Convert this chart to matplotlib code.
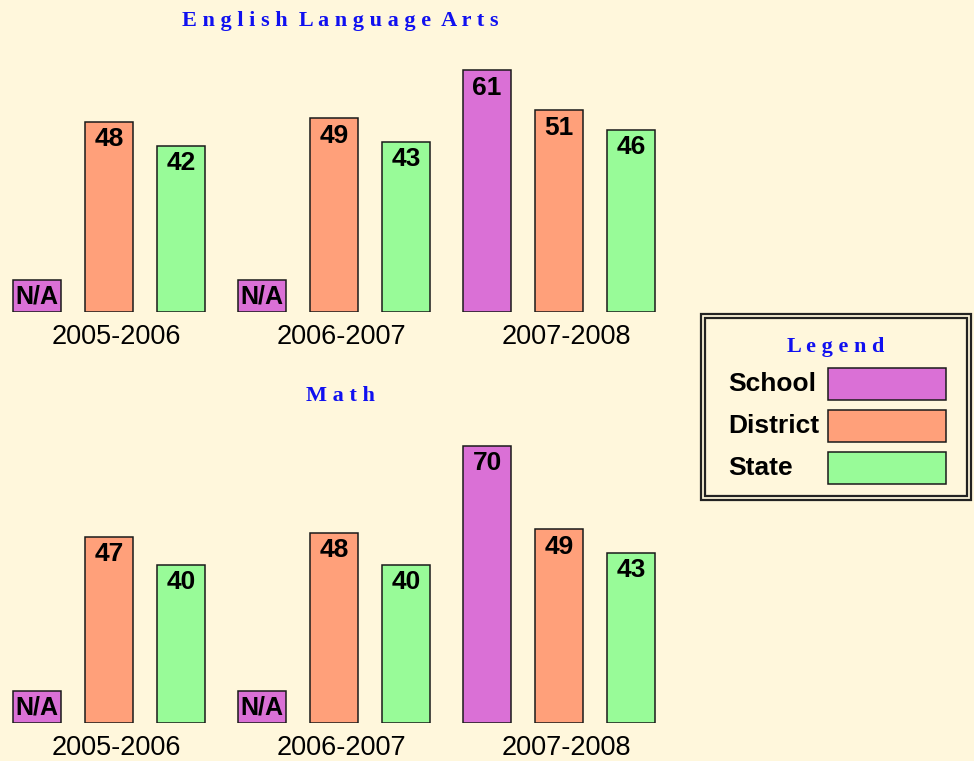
import matplotlib
matplotlib.use("Agg")
import matplotlib.pyplot as plt
from matplotlib.patches import Rectangle

# ---------------- data ----------------
years = ["2005-2006", "2006-2007", "2007-2008"]
series = ["School", "District", "State"]
ela_school = [None, None, 61]
ela_district = [48, 49, 51]
ela_state = [42, 43, 46]
math_school = [None, None, 70]
math_district = [47, 48, 49]
math_state = [40, 40, 43]

colors = ["#DA70D6", "#FFA07A", "#98FB98"]
bg = "#FFF7DC"
edge = "#1a1a1a"

W, H = 974, 761
fig = plt.figure(figsize=(W / 100, H / 100), dpi=100)
fig.patch.set_facecolor(bg)

PX_PER_UNIT = 3.96
NA_HEIGHT = 8
GROUP_PITCH = 225
BAR_PITCH = 72
BAR_W = 48
FIRST_CENTER = 37


def px_axes(left, top, right, bottom):
    return fig.add_axes([left / W, 1 - bottom / H, (right - left) / W, (bottom - top) / H])


def spaced(s):
    return "  ".join(" ".join(w) for w in s.split())


def panel(top, bottom, values, title, title_y):
    ax = px_axes(0, top, 680, bottom)
    ax.set_xlim(0, 680)
    ax.set_ylim(0, (bottom - top) / PX_PER_UNIT)
    ax.axis("off")
    ax.patch.set_alpha(0)
    for g, year in enumerate(years):
        for k, vals in enumerate(values):
            v = vals[g]
            cx = FIRST_CENTER + GROUP_PITCH * g + BAR_PITCH * k
            if v is None:
                ax.bar(cx, NA_HEIGHT, width=BAR_W, color=colors[k], edgecolor=edge, linewidth=1.1)
                ax.text(cx, NA_HEIGHT / 2, "N/A", ha="center", va="center", fontsize=18,
                        fontweight="bold", family="Liberation Sans", color="black")
            else:
                ax.bar(cx, v, width=BAR_W, color=colors[k], edgecolor=edge, linewidth=1.1)
                ax.annotate(str(v), (cx, v), xytext=(0, -4), textcoords="offset points",
                            ha="center", va="top", fontsize=19, fontweight="bold",
                            family="Liberation Sans", color="black")
        cx = FIRST_CENTER + GROUP_PITCH * g + BAR_PITCH
        ax.annotate(year, (cx, 0), xytext=(7 * 0.72, -25 * 0.72), textcoords="offset points",
                    ha="center", va="center", fontsize=19.5, family="Liberation Sans",
                    color="black", annotation_clip=False)
    fig.text(340 / W, 1 - title_y / H, spaced(title), ha="center", va="center",
             fontsize=16, fontweight="bold", family="Liberation Serif", color="#1010F0")


panel(40, 312, [ela_school, ela_district, ela_state], "English Language Arts", 21)
panel(415, 723, [math_school, math_district, math_state], "Math", 396)

# ---------------- legend box ----------------
def px_rect(left, top, right, bottom, **kw):
    r = Rectangle((left / W, 1 - bottom / H), (right - left) / W, (bottom - top) / H,
                  transform=fig.transFigure, **kw)
    fig.add_artist(r)

px_rect(701, 314, 971, 500, facecolor="none", edgecolor="#222222", linewidth=1.6)
px_rect(705, 318, 967, 496, facecolor="none", edgecolor="#222222", linewidth=1.6)
fig.text(836 / W, 1 - 347 / H, spaced("Legend"), ha="center", va="center", fontsize=16,
         fontweight="bold", family="Liberation Serif", color="#1010F0")
for i, (name, c) in enumerate(zip(series, colors)):
    cy = 384 + 42 * i
    px_rect(828, cy - 16, 946, cy + 16, facecolor=c, edgecolor=edge, linewidth=1.1)
    fig.text(728 / W, 1 - cy / H, name, ha="left", va="center", fontsize=19,
             fontweight="bold", family="Liberation Sans", color="black")

fig.savefig("out.png", dpi=100, facecolor=bg)
